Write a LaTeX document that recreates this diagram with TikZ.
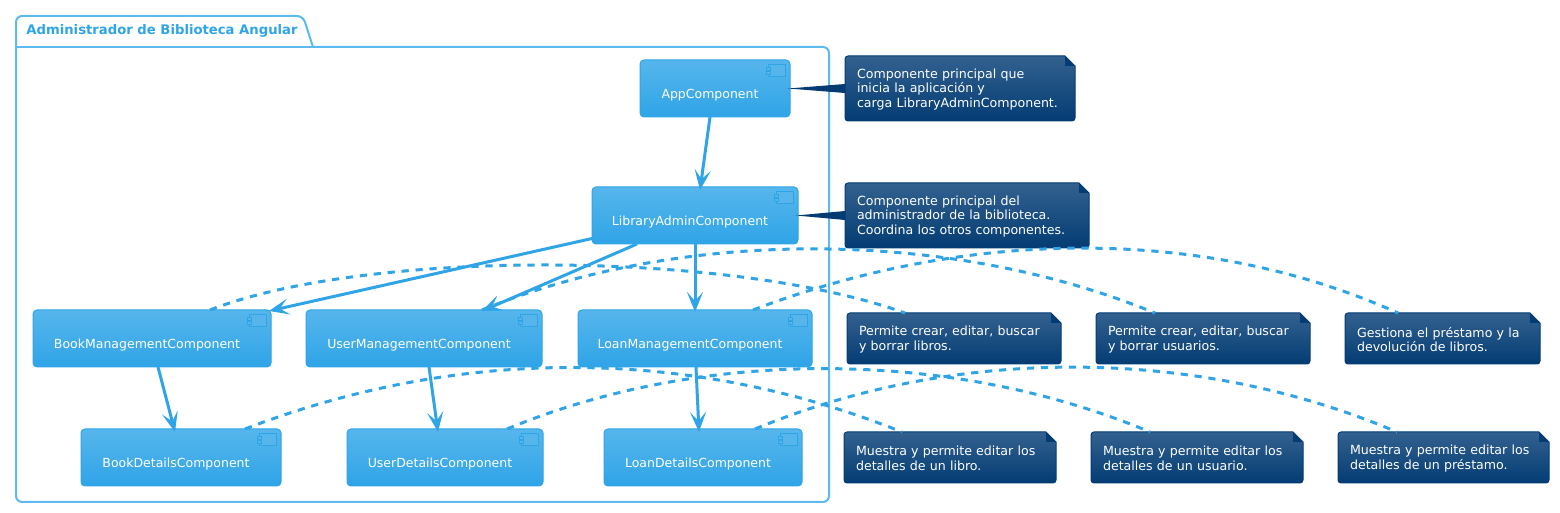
\documentclass[tikz,border=0pt]{standalone}
\usepackage{fontspec}
\setmainfont{DejaVu Sans}
\usetikzlibrary{arrows.meta,calc,backgrounds}
\definecolor{compTop}{HTML}{56B6EC}
\definecolor{compBot}{HTML}{2FA4E7}
\definecolor{pkgLine}{HTML}{5DB9EE}
\definecolor{noteTop}{HTML}{33618F}
\definecolor{noteBot}{HTML}{033C73}
\newcommand{\comptext}[1]{\raisebox{-4.8pt}[0pt][0pt]{\makebox[0pt]{\hspace{-5pt}#1}}}
\tikzset{
  comp/.style={rectangle,rounded corners=2pt,draw=compBot,line width=.5pt,top color=compTop,bottom color=compBot,
               minimum height=28.5pt,text=white,font=\fontsize{6.25}{7.4}\selectfont,inner sep=0pt,outer sep=0pt},
  notetext/.style={rectangle,inner xsep=6pt,inner ysep=0pt,align=left,text=white,outer sep=0pt,
                   font=\fontsize{6.3}{7.4}\selectfont},
  rel/.style={compBot,line width=1.5pt,-{Stealth[length=10pt,width=8pt,inset=4.5pt]}},
  notelink/.style={compBot,line width=1.5pt,dash pattern=on 3.6pt off 3.4pt},
  wedge/.style={fill=noteBot,draw=none}
}
\begin{document}
\begin{tikzpicture}[x=.5pt,y=-.5pt]
\useasboundingbox (0,0) rectangle (1560,513);
\draw [pkgLine,line width=1pt,rounded corners=3pt] (16,47) -- (16,16) -- (303,16) [sharp corners] -- (313,47) [rounded corners=3pt] -- (829,47) -- (829,502) -- (16,502) -- cycle;
\draw [pkgLine,line width=1pt] (16,47) -- (313,47);
\node [anchor=west,inner sep=0pt,text=compBot,font=\fontsize{6.6}{7.4}\selectfont\bfseries] (pkgTitle) at (26,31) {Administrador de Biblioteca Angular};

\node [comp,minimum width=75pt] (appComp) at (715,88.5) {\comptext{AppComponent}};
\node [comp,minimum width=103pt] (libComp) at (695,215.5) {\comptext{LibraryAdminComponent}};
\node [comp,minimum width=119pt] (bookMgmt) at (152,338.5) {\comptext{BookManagementComponent}};
\node [comp,minimum width=118pt] (userMgmt) at (424,338.5) {\comptext{UserManagementComponent}};
\node [comp,minimum width=117pt] (loanMgmt) at (695,338.5) {\comptext{LoanManagementComponent}};
\node [comp,minimum width=100pt] (bookDet) at (181,457.5) {\comptext{BookDetailsComponent}};
\node [comp,minimum width=98pt] (userDet) at (445,457.5) {\comptext{UserDetailsComponent}};
\node [comp,minimum width=99pt] (loanDet) at (703,457.5) {\comptext{LoanDetailsComponent}};

\foreach \n in {appComp,libComp,bookMgmt,userMgmt,loanMgmt,bookDet,userDet,loanDet} {
  \draw [compBot,line width=.5pt,fill=compTop] ($(\n.north east)+(-22,5)$) rectangle ($(\n.north east)+(-5,17)$);
  \draw [compBot,line width=.5pt,fill=compTop] ($(\n.north east)+(-24,8)$) rectangle +(4,3)
                                               ($(\n.north east)+(-24,11.5)$) rectangle +(4,3);
}

\node [notetext,text width=103pt,minimum height=32.5pt] (noteApp) at (960,89.5) {Componente principal que\\inicia la aplicación y\\carga LibraryAdminComponent.};
\node [notetext,text width=110pt,minimum height=32.5pt] (noteLib) at (967,216.5) {Componente principal del\\administrador de la biblioteca.\\Coordina los otros componentes.};
\node [notetext,text width=95pt,minimum height=25.5pt] (noteBook) at (954,339.5) {Permite crear, editar, buscar\\y borrar libros.};
\node [notetext,text width=95pt,minimum height=25.5pt] (noteUser) at (1203,339.5) {Permite crear, editar, buscar\\y borrar usuarios.};
\node [notetext,text width=85.5pt,minimum height=25.5pt] (noteLoan) at (1442.5,339.5) {Gestiona el préstamo y la\\devolución de libros.};
\node [notetext,text width=94pt,minimum height=25.5pt] (noteBookDet) at (950,458.5) {Muestra y permite editar los\\detalles de un libro.};
\node [notetext,text width=94pt,minimum height=25.5pt] (noteUserDet) at (1197,458.5) {Muestra y permite editar los\\detalles de un usuario.};
\node [notetext,text width=93.5pt,minimum height=25.5pt] (noteLoanDet) at (1443.5,458.5) {Muestra y permite editar los\\detalles de un préstamo.};

\begin{pgfonlayer}{background}
\foreach \n in {noteApp,noteLib,noteBook,noteUser,noteLoan,noteBookDet,noteUserDet,noteLoanDet} {
  \draw [noteBot,line width=.5pt,top color=noteTop,bottom color=noteBot,rounded corners=1.5pt]
        ($(\n.south west)+(0,-1)$) -- ($(\n.north west)+(0,-1)$) [sharp corners] -- ($(\n.north east)+(-10,-1)$) -- ($(\n.north east)+(0,9)$) [rounded corners=1.5pt] -- ($(\n.south east)+(0,-1)$) -- cycle;
  \fill [noteBot] ($(\n.north east)+(-10,-1)$) -- ($(\n.north east)+(0,9)$) -- ($(\n.north east)+(-10,9)$) -- cycle;
}
\end{pgfonlayer}

\fill [wedge] ($(appComp.east)+(-2,0)$) -- ($(noteApp.west)+(0,-5.5)$) -- ($(noteApp.west)+(0,3.5)$) -- cycle;
\fill [wedge] ($(libComp.east)+(-2,0)$) -- ($(noteLib.west)+(0,-5.5)$) -- ($(noteLib.west)+(0,3.5)$) -- cycle;

\draw [notelink] ($(bookMgmt.north)+(58,0)$) .. controls +(156,-61) and +(-175,-63) .. ($(noteBook.north)+(-49,-1)$);
\draw [notelink] ($(userMgmt.north)+(58,0)$) .. controls +(200,-82) and +(-207,-85) .. ($(noteUser.north)+(-48,-1)$);
\draw [notelink] ($(loanMgmt.north)+(58,0)$) .. controls +(218,-83) and +(-191,-86) .. ($(noteLoan.north)+(-44.5,-1)$);
\draw [notelink] ($(bookDet.north)+(64,0)$) .. controls +(216,-83) and +(-212,-85) .. ($(noteBookDet.north)+(-48,-1)$);
\draw [notelink] ($(userDet.north)+(62,0)$) .. controls +(195,-81) and +(-200,-84) .. ($(noteUserDet.north)+(-47,-1)$);
\draw [notelink] ($(loanDet.north)+(52,0)$) .. controls +(200,-83) and +(-202,-86) .. ($(noteLoanDet.north)+(-46.5,-1)$);

\draw [rel] ($(appComp.south)+(-5,0)$) -- ($(libComp.north)+(5,3)$);
\draw [rel] ($(libComp.west)+(0,23)$) -- ($(bookMgmt.north east)+(-2,1)$);
\draw [rel] ($(libComp.south)+(-58,0)$) -- ($(userMgmt.north)+(58,1)$);
\draw [rel] (libComp.south) -- ($(loanMgmt.north)+(0,2)$);
\draw [rel] ($(bookMgmt.south)+(6,0)$) -- ($(bookDet.north)+(-6,3)$);
\draw [rel] ($(userMgmt.south)+(5,0)$) -- ($(userDet.north)+(-7,3)$);
\draw [rel] ($(loanMgmt.south)+(1,0)$) -- ($(loanDet.north)+(-4,3)$);
\end{tikzpicture}
\end{document}
